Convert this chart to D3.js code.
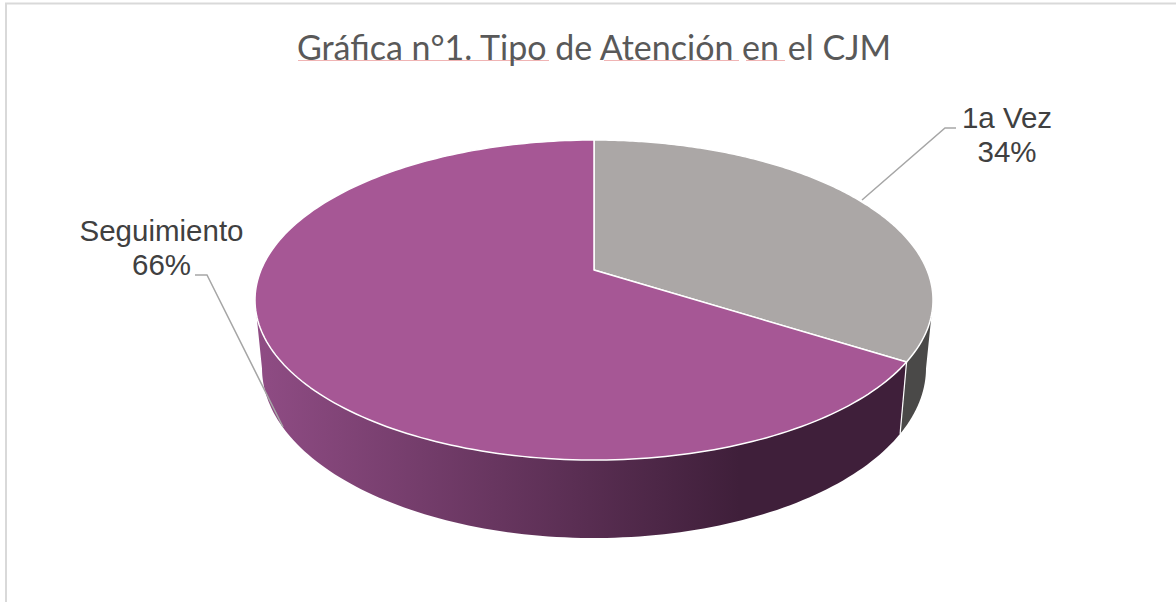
<!DOCTYPE html>
<html>
<head>
<meta charset="utf-8">
<script src="https://cdn.jsdelivr.net/npm/d3@7"></script>
<style>
  html, body { margin: 0; padding: 0; background: #fff; overflow: hidden; }
  svg { display: block; }
</style>
</head>
<body>
<div id="chart"></div>
<script>
const categories = ['1a Vez', 'Seguimiento'];
const shares = [34, 66];
const percentLabels = ['34%', '66%'];
const topColors = ['#aba7a6', '#a65795'];
const chartTitle = 'Gráfica n°1. Tipo de Atención en el CJM';

const width = 1176;
const height = 602;

const svg = d3.select('#chart')
  .append('svg')
  .attr('width', width)
  .attr('height', height);

// top face and lower rim are separate ellipses, the lower one is a bit narrower
const xTop = d3.scaleLinear().domain([-1, 1]).range([255, 933]);
const yTop = d3.scaleLinear().domain([-1, 1]).range([140, 460]);
const xBottom = d3.scaleLinear().domain([-1, 1]).range([262, 926]);
const yBottom = d3.scaleLinear().domain([-1, 1]).range([198, 538]);

// the apex sits above the ellipse centre, so angles get a perspective shift
const shift = -0.1875;
function project(angle) {
  const u = Math.sin(angle);
  const v = -Math.cos(angle);
  const d = 1 + shift * v;
  return { u: u * Math.sqrt(1 - shift * shift) / d, v: (v + shift) / d };
}

const slices = d3.pie().sort(null).value(d => d)(shares);

const defs = svg.append('defs');
const grad = defs.append('linearGradient')
  .attr('id', 'sideGrad')
  .attr('gradientUnits', 'userSpaceOnUse')
  .attr('x1', 258).attr('x2', 900).attr('y1', 0).attr('y2', 0);
grad.append('stop').attr('offset', '0').attr('stop-color', '#8f4c84');
grad.append('stop').attr('offset', '0.75').attr('stop-color', '#3f1f3a');
grad.append('stop').attr('offset', '1').attr('stop-color', '#3f1f3a');

const line = d3.line().x(d => d[0]).y(d => d[1]);

function arcSteps(s) {
  return d3.range(0, 201).map(i => s.startAngle + (s.endAngle - s.startAngle) * i / 200);
}

// chart frame
svg.append('path')
  .attr('d', line([[6, height], [6, 3.5], [width, 3.5]]))
  .attr('fill', 'none')
  .attr('stroke', '#d9d9d9')
  .attr('stroke-width', 2);

// side walls
const sideFill = ['#4a4948', 'url(#sideGrad)'];
svg.append('g')
  .selectAll('path')
  .data(slices)
  .join('path')
    .attr('d', s => {
      const pts = arcSteps(s).map(project).filter(p => p.v >= 0);
      const lower = pts.map(p => [xBottom(p.u), yBottom(p.v)]);
      const upper = pts.map(p => [xTop(p.u), yTop(p.v)]).reverse();
      return line(lower.concat(upper)) + 'Z';
    })
    .attr('fill', (s, i) => sideFill[i]);

// edge between the two walls
const edge = project(slices[0].endAngle);
svg.append('path')
  .attr('d', line([[xTop(edge.u), yTop(edge.v)], [xBottom(edge.u), yBottom(edge.v)]]))
  .attr('stroke', '#fff')
  .attr('stroke-width', 1.2);

// top face
svg.append('g')
  .selectAll('path')
  .data(slices)
  .join('path')
    .attr('d', s => {
      const pts = arcSteps(s).map(project).map(p => [xTop(p.u), yTop(p.v)]);
      return line([[xTop(0), yTop(shift)]].concat(pts)) + 'Z';
    })
    .attr('fill', (s, i) => topColors[i])
    .attr('stroke', '#fff')
    .attr('stroke-width', 1.5)
    .attr('stroke-linejoin', 'round');

// leader lines
const leaders = [
  [[862, 200], [945, 128], [956, 128]],
  [[195, 275], [207, 275], [283, 427]]
];
svg.append('g')
  .selectAll('path')
  .data(leaders)
  .join('path')
    .attr('d', d => line(d))
    .attr('fill', 'none')
    .attr('stroke', '#a6a6a6')
    .attr('stroke-width', 1.5);

// labels
const labelPos = [{ x: 1007, y: 128 }, { x: 161.5, y: 241 }];
const labels = svg.append('g')
  .attr('font-family', '"Liberation Sans", Arial, sans-serif')
  .attr('font-size', 29.5)
  .attr('fill', '#404040')
  .attr('text-anchor', 'middle');
categories.forEach((c, i) => {
  labels.append('text').attr('x', labelPos[i].x).attr('y', labelPos[i].y).text(c);
  labels.append('text').attr('x', labelPos[i].x).attr('y', labelPos[i].y + 34).text(percentLabels[i]);
});

// spell-check underlines below the title
const squiggles = [[298, 549], [604, 739], [746, 785]];
svg.append('g')
  .selectAll('path')
  .data(squiggles)
  .join('path')
    .attr('d', d => line([[d[0], 60.5], [d[1], 60.5]]))
    .attr('stroke', '#f0b4b4')
    .attr('stroke-width', 1);

svg.append('text')
  .attr('x', 594)
  .attr('y', 60)
  .attr('text-anchor', 'middle')
  .attr('font-family', 'Lato, "Open Sans", sans-serif')
  .attr('font-size', 34)
  .attr('fill', '#595959')
  .text(chartTitle);
</script>
</body>
</html>
